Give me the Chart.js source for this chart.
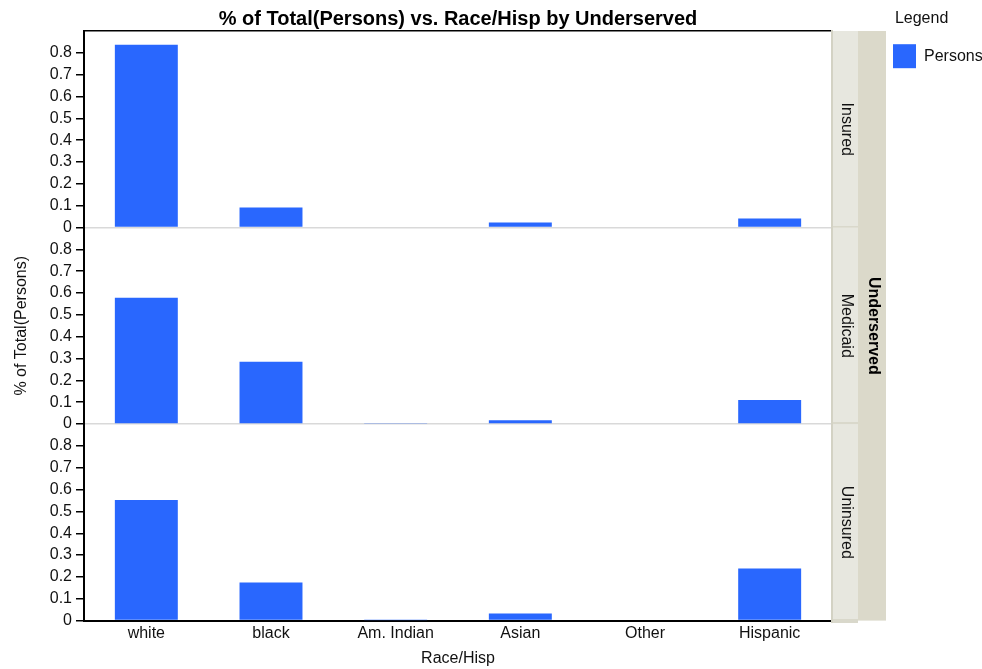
<!DOCTYPE html>
<html>
<head>
<meta charset="utf-8">
<script src="https://cdn.jsdelivr.net/npm/chart.js@4"></script>
<style>
  html, body { margin: 0; padding: 0; background: #fff; overflow: hidden; }
</style>
</head>
<body>
<canvas id="graph" width="982" height="669"></canvas>
<script>
// categories on the x axis
const raceHisp = ["white", "black", "Am. Indian", "Asian", "Other", "Hispanic"];

// % of total persons, one list per Underserved panel
const insured = [0.837, 0.092, 0, 0.023, 0, 0.041];
const medicaid = [0.579, 0.285, 0.005, 0.018, 0, 0.11];
const uninsured = [0.552, 0.175, 0.002, 0.032, 0, 0.239];

const panelNames = ["Insured", "Medicaid", "Uninsured"];
const yTickValues = [0, 0.1, 0.2, 0.3, 0.4, 0.5, 0.6, 0.7, 0.8];

const barColor = "#2967fe";
const ink = "#111";

Chart.defaults.font.family = "'Liberation Sans', Arial, sans-serif";
Chart.defaults.font.size = 16;
Chart.defaults.color = ink;

// left value axis for one panel (they are stacked on top of each other)
function panelAxis(weight, title, zeroColor) {
  return {
    type: "linear",
    position: "left",
    stack: "panels",
    stackWeight: 1,
    weight: weight,
    min: 0,
    max: 0.9,
    afterBuildTicks: (s) => {
      s.ticks = yTickValues.map((v) => ({ value: v }));
    },
    afterFit: (s) => {
      s.width = 84;
    },
    ticks: { padding: 4, color: ink, autoSkip: false },
    grid: {
      drawOnChartArea: true,
      color: (c) => (c.tick && c.tick.value === 0 ? zeroColor : "transparent"),
      tickColor: "#000",
      tickLength: 8,
      lineWidth: 1.5,
    },
    border: { color: "#000", width: 2 },
    title: {
      display: !!title,
      text: title,
      color: ink,
      padding: { top: 12, bottom: 0 },
    },
  };
}

// grey strip on the right with the panel name
function stripAxis(weight, name) {
  return {
    type: "linear",
    position: "right",
    stack: "strips",
    stackWeight: 1,
    weight: weight,
    min: 0,
    max: 0.9,
    backgroundColor: "#e7e7df",
    afterBuildTicks: (s) => {
      s.ticks = [{ value: 0 }];
    },
    afterFit: (s) => {
      s.width = 26;
    },
    ticks: { display: false },
    grid: {
      drawOnChartArea: false,
      color: "#d9d8cb",
      tickLength: 26,
      lineWidth: 4,
    },
    border: { color: "#d3d2c4", width: 2 },
    title: {
      display: true,
      text: name,
      color: ink,
      padding: { top: 2, bottom: 0 },
    },
  };
}

new Chart(document.getElementById("graph"), {
  type: "bar",
  data: {
    labels: raceHisp,
    datasets: [
      { label: "Persons", data: insured, yAxisID: "yIns" },
      { label: "Persons", data: medicaid, yAxisID: "yMed" },
      { label: "Persons", data: uninsured, yAxisID: "yUni" },
    ].map((d) => ({
      ...d,
      backgroundColor: barColor,
      borderWidth: 0,
      grouped: false,
      barPercentage: 0.505,
      categoryPercentage: 1,
    })),
  },
  options: {
    responsive: false,
    animation: false,
    layout: { padding: 0 },
    plugins: {
      tooltip: { enabled: false },
      title: {
        display: true,
        text: "% of Total(Persons) vs. Race/Hisp by Underserved",
        fullSize: false,
        color: "#000",
        font: { size: 20, weight: "bold" },
        padding: { top: 7, bottom: 0 },
      },
      legend: {
        position: "right",
        align: "start",
        maxWidth: 96,
        title: {
          display: true,
          text: "  Legend",
          position: "start",
          color: ink,
          padding: { top: 11, bottom: 7 },
        },
        labels: {
          boxWidth: 23,
          boxHeight: 24,
          padding: 7,
          color: ink,
          filter: (item) => item.datasetIndex === 0,
        },
      },
    },
    scales: {
      x: {
        position: "bottom",
        grid: { display: false, drawTicks: false },
        border: { color: "#000", width: 2 },
        ticks: { padding: 3, color: ink, maxRotation: 0, autoSkip: false },
        title: {
          display: true,
          text: "Race/Hisp",
          color: ink,
          padding: { top: 3, bottom: 1 },
        },
      },
      xTop: {
        type: "category",
        position: "top",
        grid: { display: false, drawTicks: false },
        ticks: { display: false },
        border: { color: "#000", width: 1.5 },
      },
      yIns: panelAxis(3, "", "#d9d9d9"),
      yMed: panelAxis(2, "% of Total(Persons)", "#d9d9d9"),
      yUni: panelAxis(1, "", "transparent"),
      sIns: stripAxis(1, panelNames[0]),
      sMed: stripAxis(2, panelNames[1]),
      sUni: stripAxis(3, panelNames[2]),
      sOuter: {
        type: "linear",
        position: "right",
        weight: 10,
        min: 0,
        max: 1,
        backgroundColor: "#dbd9ca",
        afterFit: (s) => {
          s.width = 28;
        },
        ticks: { display: false },
        grid: { display: false, drawTicks: false },
        border: { display: false },
        title: {
          display: true,
          text: "Underserved",
          color: "#000",
          font: { weight: "bold" },
          padding: { top: 3, bottom: 0 },
        },
      },
    },
  },
});
</script>
</body>
</html>
